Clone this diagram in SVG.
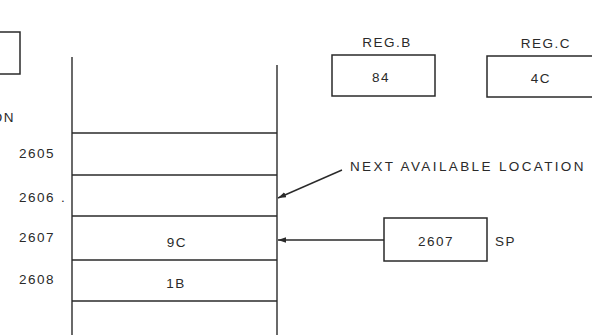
<svg xmlns="http://www.w3.org/2000/svg" width="592" height="335" viewBox="0 0 592 335">
<defs>
<style>
.ln{stroke:#2a2a2a;stroke-width:1.4;fill:none}
.bx{stroke:#2a2a2a;stroke-width:1.5;fill:#fff}
text{font-family:"Liberation Sans",Arial,sans-serif;font-size:13.5px;fill:#2a2a2a;letter-spacing:1.5px}
.c{text-anchor:middle}
.e{text-anchor:end}
</style>
<marker id="ah" viewBox="0 0 10 10" refX="10" refY="5" markerWidth="8" markerHeight="8" markerUnits="userSpaceOnUse" orient="auto">
<path d="M0,1.5 L10,5 L0,8.5 Z" fill="#2a2a2a"/>
</marker>
</defs>
<rect width="592" height="335" fill="#fff"/>
<g id="reg-partial">
<rect class="bx" x="-20" y="32" width="40" height="42"/>
<text class="e" x="15" y="122">LOCATION</text>
</g>
<g id="stack">
<line class="ln" x1="72" y1="57" x2="72" y2="335"/>
<line class="ln" x1="277" y1="65" x2="277" y2="335"/>
<line class="ln" x1="72" y1="133" x2="277" y2="133"/>
<line class="ln" x1="72" y1="175" x2="277" y2="175"/>
<line class="ln" x1="72" y1="216" x2="277" y2="216"/>
<line class="ln" x1="72" y1="260" x2="277" y2="260"/>
<line class="ln" x1="72" y1="301" x2="277" y2="301"/>
<text class="c" x="177" y="247">9C</text>
<text class="c" x="176" y="288">1B</text>
</g>
<g id="addresses">
<text class="e" x="55" y="158">2605</text>
<text class="e" x="55" y="202">2606</text>
<text x="61" y="202">.</text>
<text class="e" x="55" y="242">2607</text>
<text class="e" x="55" y="284">2608</text>
</g>
<g id="reg-b">
<text class="c" x="387" y="47">REG.B</text>
<rect class="bx" x="332" y="55" width="103" height="41"/>
<text class="c" x="381" y="82">84</text>
</g>
<g id="reg-c">
<text class="c" x="546" y="48">REG.C</text>
<rect class="bx" x="487" y="56" width="110" height="41"/>
<text class="c" x="541" y="83">4C</text>
</g>
<g id="sp">
<rect class="bx" x="384" y="218" width="103" height="43"/>
<text class="c" x="436" y="246">2607</text>
<text x="495" y="246">SP</text>
</g>
<g id="next-label">
<text x="350" y="171" textLength="235" lengthAdjust="spacing">NEXT AVAILABLE LOCATION</text>
</g>
<g id="connectors">
<line class="ln" x1="342" y1="170" x2="278" y2="198" marker-end="url(#ah)"/>
<line class="ln" x1="384" y1="240" x2="278" y2="240" marker-end="url(#ah)"/>
</g>
</svg>
